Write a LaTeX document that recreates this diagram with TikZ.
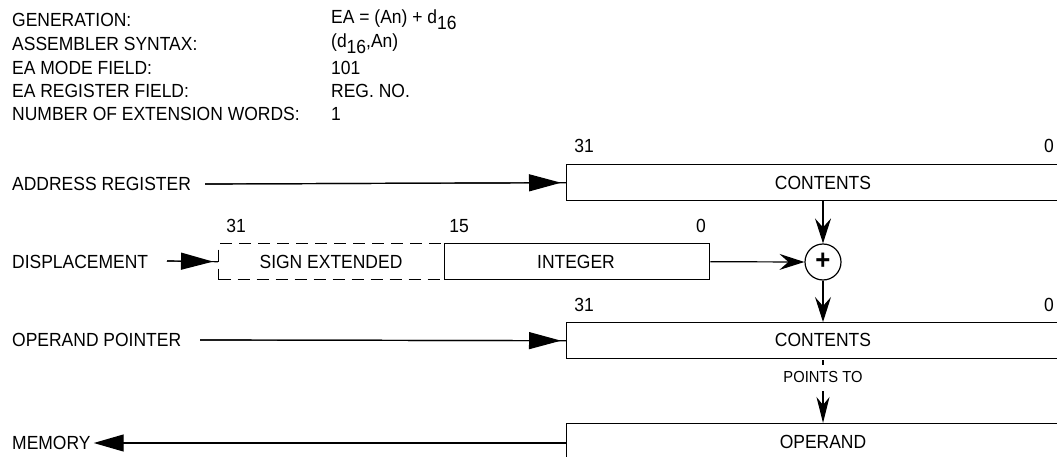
\documentclass[tikz,border=0pt]{standalone}
\usepackage{fontspec}
\setmainfont[FakeStretch=0.92]{Liberation Sans}
\usetikzlibrary{arrows.meta}
\tikzset{
  lbl/.style={anchor=west, inner sep=0pt, font=\fontsize{19}{22}\selectfont},
  txt/.style={inner sep=0pt, font=\fontsize{19}{22}\selectfont},
  regbox/.style={draw, line width=1.4pt},
  conn/.style={line width=1.2pt},
  bigtip/.style={-{Triangle[length=32pt,width=17pt]}},
  smalltip/.style={-{Stealth[length=25pt,width=16pt,inset=9pt]}},
}
\newcommand{\sbs}[1]{\raisebox{-0.3em}{#1}}
\begin{document}
\begin{tikzpicture}[x=1pt,y=-1pt]
\useasboundingbox (0,0) rectangle (1057,457);
\clip (0,0) rectangle (1057,457);
% header
\node[lbl] (h1) at (12,20) {GENERATION:};
\node[lbl] (h2) at (12,44) {ASSEMBLER SYNTAX:};
\node[lbl] (h3) at (12,68) {EA MODE FIELD:};
\node[lbl] (h4) at (12,91) {EA REGISTER FIELD:};
\node[lbl] (h5) at (12,114) {NUMBER OF EXTENSION WORDS:};
\node[lbl] (v1) at (331,20) {EA = (An) + d\sbs{16}};
\node[lbl] (v2) at (331,44) {(d\sbs{16},An)};
\node[lbl] (v3) at (331,68) {101};
\node[lbl] (v4) at (331,91) {REG. NO.};
\node[lbl] (v5) at (331,114) {1};
% address register
\node[regbox, minimum width=514pt, minimum height=36pt, anchor=north west, inner sep=0pt] (ar) at (566,164) {};
\node[txt] (arT) at (823,183) {CONTENTS};
\node[txt] (ar31) at (584,146) {31};
\node[txt] (ar0) at (1049,146) {0};
\node[lbl] (arL) at (12,184) {ADDRESS REGISTER};
\coordinate (arS) at (205,184);
\draw[conn] (arS) -- (ar.west);
\draw[conn, bigtip, shorten >=5pt] (arS) -- (ar.west);
% displacement
\node[draw, dash pattern=on 12pt off 7pt, line width=1.4pt, minimum width=226pt, minimum height=36pt, anchor=north west, inner sep=0pt] (se) at (218,243) {};
\node[regbox, minimum width=265pt, minimum height=36pt, anchor=north west, inner sep=0pt] (int) at (444,243) {};
\node[txt] (seT) at (331,262) {SIGN EXTENDED};
\node[txt] (intT) at (576,262) {INTEGER};
\node[txt] (d31) at (236,226) {31};
\node[txt] (d15) at (459,226) {15};
\node[txt] (d0) at (701,226) {0};
\node[lbl] (dL) at (12,262) {DISPLACEMENT};
\coordinate (dS) at (167,261);
\draw[conn] (dS) -- (se.west);
\draw[conn, bigtip, shorten >=5pt] (dS) -- (se.west);
% adder
\node[draw, circle, line width=1.2pt, minimum size=36pt, inner sep=0pt, font=\fontsize{28}{28}\selectfont\bfseries] (add) at (823,262) {};
\node[font=\fontsize{28}{28}\selectfont\bfseries, inner sep=0pt] (plus) at (823,261) {+};
\draw[conn, smalltip] (ar.south -| add) -- (add.north);
\draw[conn, smalltip] (int.east) -- (add.west);
% operand pointer
\node[regbox, minimum width=514pt, minimum height=36pt, anchor=north west, inner sep=0pt] (op) at (566,322) {};
\node[txt] (opT) at (823,340) {CONTENTS};
\node[txt] (op31) at (584,305) {31};
\node[txt] (op0) at (1049,305) {0};
\draw[conn, smalltip] (add.south) -- (op.north -| add);
\node[lbl] (opL) at (12,340) {OPERAND POINTER};
\coordinate (opS) at (200,340);
\draw[conn] (opS) -- (op.west);
\draw[conn, bigtip, shorten >=5pt] (opS) -- (op.west);
% points to
\node[txt, font=\fontsize{16}{18}\selectfont] (pt) at (823,377) {POINTS TO};
\coordinate (tick1) at (823,360);
\coordinate (tick2) at (823,365);
\draw[line width=2pt] (tick1) -- (tick2);
% operand
\node[regbox, minimum width=514pt, minimum height=40pt, anchor=north west, inner sep=0pt] (mem) at (566,423) {};
\node[txt] (memT) at (823,442) {OPERAND};
\coordinate (ptS) at (823,391);
\draw[conn, -{Stealth[length=26pt,width=13pt,inset=8pt]}] (ptS) -- (mem.north -| add);
\node[lbl] (mL) at (12,443) {MEMORY};
\draw[conn, -{Triangle[length=30pt,width=17pt]}, shorten >=3pt] (mem.west |- mL) -- (mL.east);
\end{tikzpicture}
\end{document}
